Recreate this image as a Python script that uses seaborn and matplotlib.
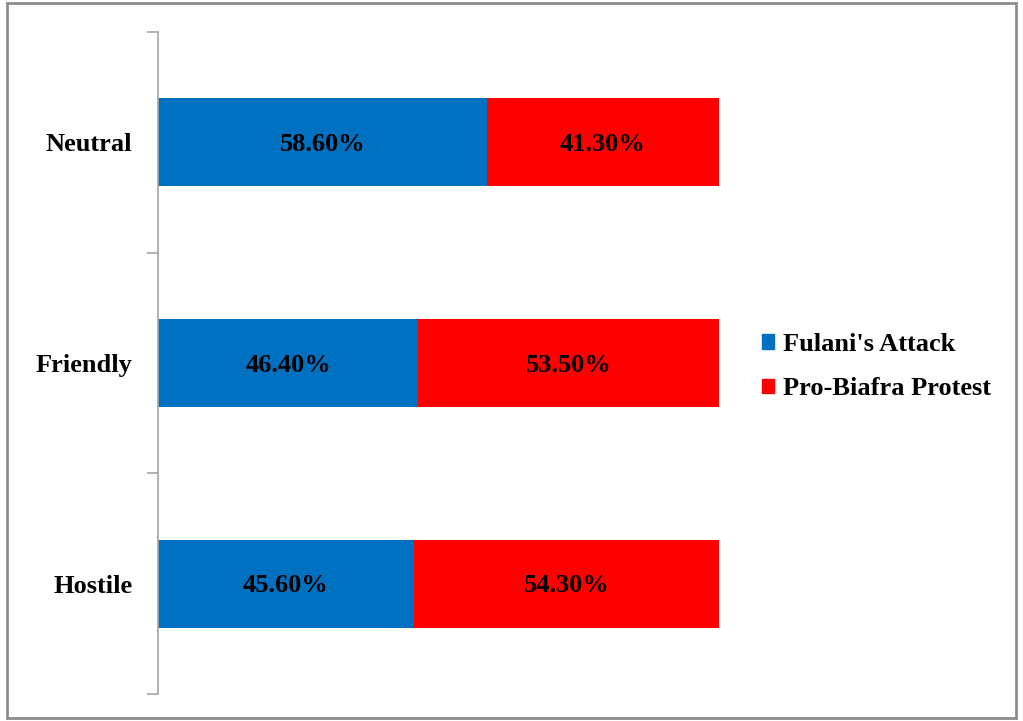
import numpy as np
import pandas as pd
import matplotlib.pyplot as plt
import seaborn as sns
from matplotlib.patches import Rectangle, Patch

# -------------------
# Data
# -------------------
categories = ["Neutral", "Friendly", "Hostile"]
fulani = [58.6, 46.4, 45.6]
biafra = [41.3, 53.5, 54.3]
series_names = ["Fulani's Attack", "Pro-Biafra Protest"]

blue = "#0070C0"
red = "#FF0000"

df = pd.DataFrame({"Attitude": categories, "Fulani": fulani, "Biafra": biafra})
df["Total"] = df["Fulani"] + df["Biafra"]

# -------------------
# Plot
# -------------------
sns.set_style("white")
plt.rcParams['font.family'] = ['Liberation Serif', 'DejaVu Serif']
plt.rcParams['font.weight'] = 'bold'
plt.rcParams['text.color'] = 'black'
plt.rcParams['ytick.labelcolor'] = 'black'

fig = plt.figure(figsize=(10.23, 7.21), dpi=100)
ax = fig.add_axes([158 / 1023, 1 - 694 / 721, (719.4 - 158) / 1023, (694 - 32) / 721])

# stacked: total (red) first, then blue on top
sns.barplot(data=df, x="Total", y="Attitude", order=categories, color=red,
            width=0.4, saturation=1, linewidth=0, ax=ax)
sns.barplot(data=df, x="Fulani", y="Attitude", order=categories, color=blue,
            width=0.4, saturation=1, linewidth=0, ax=ax)

for i, (f, b) in enumerate(zip(fulani, biafra)):
    ax.text(f / 2, i + 0.01, f"{f:.2f}%", ha="center", va="center", fontsize=19,
            fontweight="bold", color="black")
    ax.text(f + b / 2, i + 0.01, f"{b:.2f}%", ha="center", va="center", fontsize=19,
            fontweight="bold", color="black")

ax.set_xlim(0, 100)
ax.set_ylim(2.5, -0.5)
ax.set_xlabel("")
ax.set_ylabel("")
ax.set_xticks([])

ax.set_yticks(range(len(categories)))
ax.set_yticklabels(categories, fontsize=19, fontweight="bold", color="black")
ax.set_yticks([-0.5, 0.5, 1.5, 2.5], minor=True)
ax.tick_params(axis="y", which="major", length=0, pad=18.5)
ax.tick_params(axis="y", which="minor", length=8, width=1.2, color="#A6A6A6", left=True)

for side in ["top", "right", "bottom"]:
    ax.spines[side].set_visible(False)
ax.spines["left"].set_color("#A6A6A6")
ax.spines["left"].set_linewidth(1.2)

handles = [Patch(color=blue, label=series_names[0]), Patch(color=red, label=series_names[1])]
fig.legend(handles=handles, loc="center left", bbox_to_anchor=(762 / 1023, 1 - 366.5 / 721),
           frameon=False, handlelength=0.45, handleheight=0.45,
           handletextpad=0.35, labelspacing=0.8, borderpad=0, borderaxespad=0,
           prop={"size": 19, "weight": "bold"}, labelcolor="black")

# outer frame
fig.patches.append(Rectangle((7 / 1023, 3 / 721), (1016 - 7) / 1023, (718 - 3) / 721,
                             transform=fig.transFigure, fill=False,
                             edgecolor="#8C8C8C", linewidth=2))

fig.savefig("out.png", dpi=100)
